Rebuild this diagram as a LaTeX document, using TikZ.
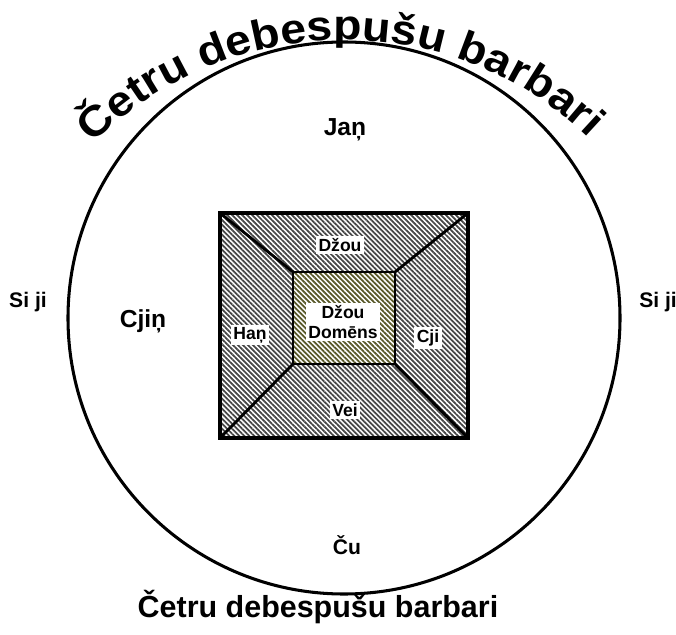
\documentclass[tikz,border=0pt]{standalone}
\usepackage{fontspec}
\setmainfont{Liberation Sans}
\newfontfamily\wideface[FakeStretch=1.1]{Liberation Sans}
\usetikzlibrary{patterns.meta,decorations.text}

\definecolor{stripegray}{RGB}{70,70,70}
\definecolor{stripeolive}{RGB}{88,88,40}

\begin{document}
\begin{tikzpicture}[x=0.03cm,y=0.03cm,
  outlabel/.style={font=\bfseries\fontsize{18}{20}\selectfont},
  biglabel/.style={font=\bfseries\fontsize{21}{23}\selectfont},
  inlabel/.style={font=\bfseries\fontsize{15}{17}\selectfont, fill=white, inner sep=2pt, align=center},
  hatched/.style={pattern={Lines[angle=-45,distance=3pt,line width=1.5pt]}, pattern color=stripegray},
  hatchedin/.style={pattern={Lines[angle=-45,distance=3pt,line width=1.5pt]}, pattern color=stripeolive}]

\useasboundingbox (0,0) rectangle (676,634);

% the world circle
\coordinate (c) at (344,316);
\draw[line width=2.6pt] (c) circle (276);

% corners of the square
\coordinate (o1) at (220,421);
\coordinate (o2) at (468,421);
\coordinate (o3) at (468,196);
\coordinate (o4) at (220,196);
\coordinate (i1) at (293,362);
\coordinate (i2) at (395,362);
\coordinate (i3) at (395,270);
\coordinate (i4) at (293,270);

\fill[hatched] (o1) -- (o2) -- (o3) -- (o4) -- cycle;
\fill[white] (i1) -- (i2) -- (i3) -- (i4) -- cycle;
\draw[hatchedin, line width=1.8pt] (i1) -- (i2) -- (i3) -- (i4) -- cycle;
\draw[line width=2.4pt] (o1) -- (i1) (o2) -- (i2) (o3) -- (i3) (o4) -- (i4);
\draw[line width=3.4pt] (o1) -- (o2) -- (o3) -- (o4) -- cycle;

% labels
\node[biglabel] (jan) at (345,504) {Jaņ};
\node[biglabel] (cjin) at (143,313) {Cjiņ};
\node[outlabel] (cu) at (347,89) {Ču};
\node[outlabel] (siL) at (28,332) {Si ji};
\node[outlabel] (siR) at (658,332) {Si ji};

\node[inlabel] (dzou) at (340,389) {Džou};
\node[inlabel] (dom) at (343,312) {Džou\\Domēns};
\node[inlabel] (han) at (250,299) {Haņ};
\node[inlabel] (cji) at (428,296) {Cji};
\node[inlabel] (vei) at (345,224) {Vei};

% barbarians
\path[decorate, decoration={text along path, text align=fit to path,
  text={|\wideface\bfseries\fontsize{36}{40}\selectfont|Četru debespušu barbari}}]
  (344,239) ++(135:355) arc[start angle=135, end angle=47, radius=355];
\node[font=\bfseries\fontsize{26}{28}\selectfont] (bottom) at (318,27) {Četru debespušu barbari};

\end{tikzpicture}
\end{document}
